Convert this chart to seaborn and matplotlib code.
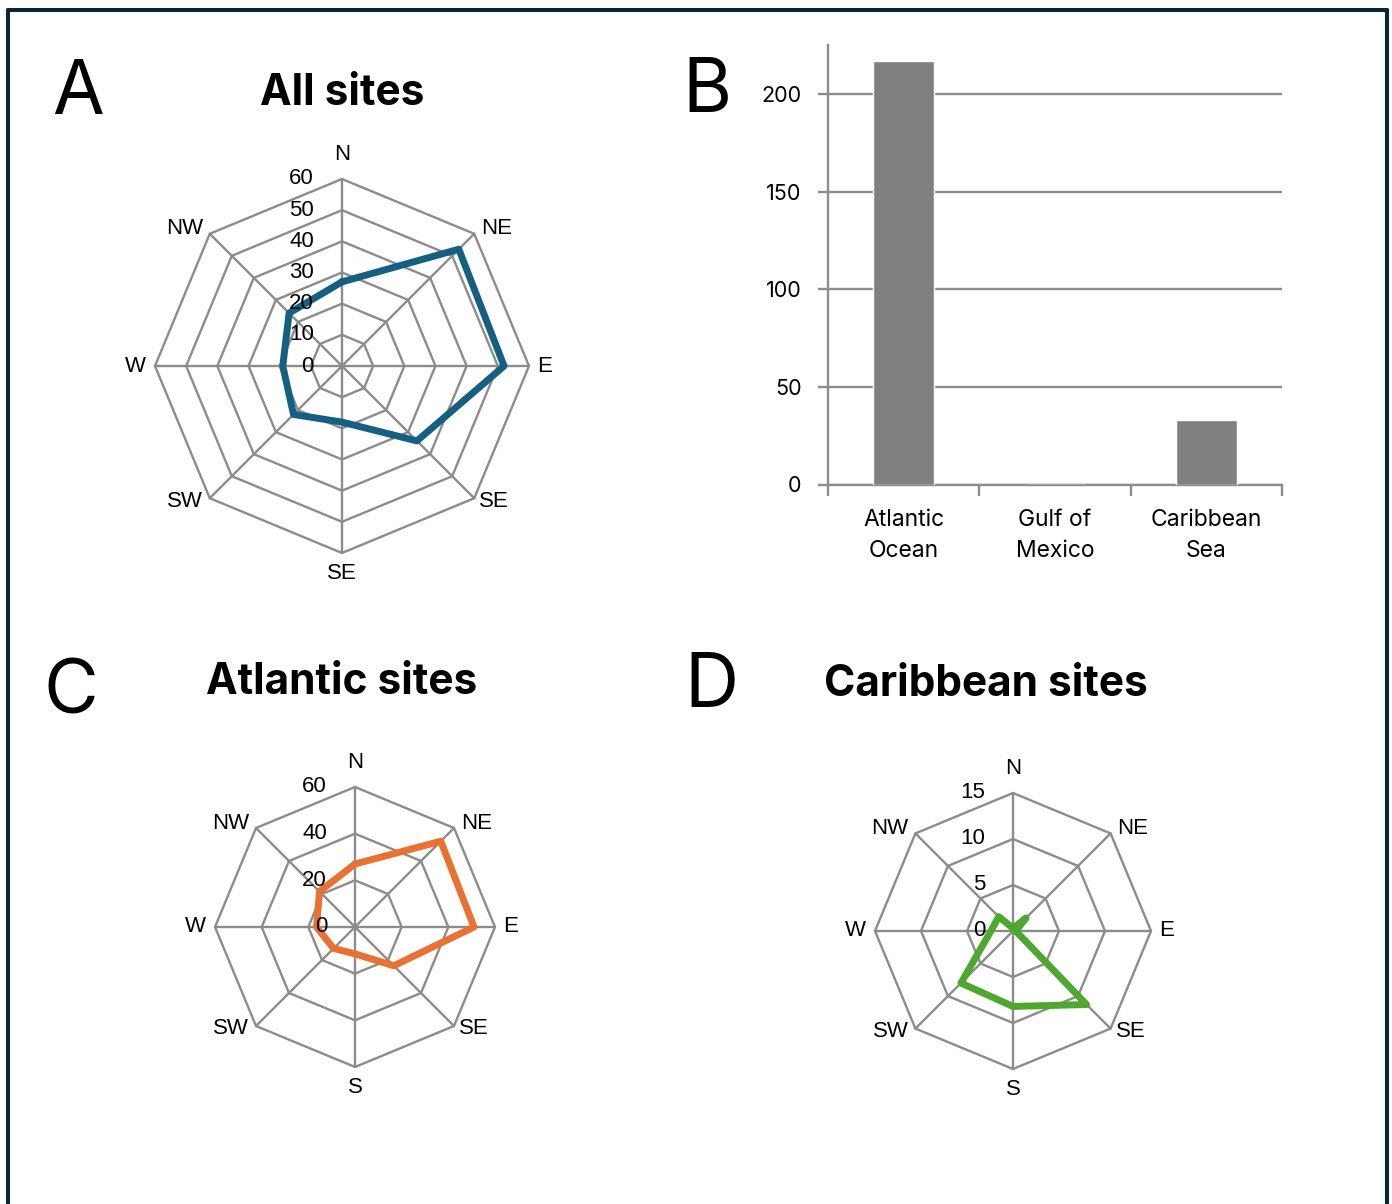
import numpy as np
import pandas as pd
import matplotlib
matplotlib.use("Agg")
import matplotlib.pyplot as plt
import seaborn as sns
from matplotlib.lines import Line2D

# ---------------- data ----------------
directions_all = ["N", "NE", "E", "SE", "SE", "SW", "W", "NW"]   # labels as printed in panel A
directions = ["N", "NE", "E", "SE", "S", "SW", "W", "NW"]
all_sites = [27, 53, 52, 34, 18, 22, 19, 24]
atlantic_sites = [27, 52, 51, 23.5, 11.5, 13, 16.5, 21.5]
caribbean_sites = [0.3, 2.0, 0.3, 11.3, 8.2, 8.0, 2.4, 2.2]
ticks_all = [0, 10, 20, 30, 40, 50, 60]
ticks_atl = [0, 20, 40, 60]
ticks_car = [0, 5, 10, 15]
regions = ["Atlantic\nOcean", "Gulf of\nMexico", "Caribbean\nSea"]
region_counts = [217, 0, 33]
bar_ticks = [0, 50, 100, 150, 200]

# ---------------- style ----------------
sns.set_theme(style="white")
plt.rcParams["font.family"] = ["Inter", "DejaVu Sans"]
plt.rcParams["text.color"] = "black"
W, H = 1392, 1204
GRID = "#8c8c8c"
RADAR_FONT = ["Liberation Sans", "DejaVu Sans"]
fig = plt.figure(figsize=(W / 100, H / 100), dpi=100)
fig.patch.set_facecolor("white")


def fx(x):
    return x / W


def fy(y):
    return 1 - y / H


# frame
BORDER = "#0c2631"
fig.add_artist(Line2D([fx(8), fx(8)], [fy(10), fy(1210)], color=BORDER, lw=2.9, transform=fig.transFigure))
fig.add_artist(Line2D([fx(8), fx(1387)], [fy(10), fy(10)], color=BORDER, lw=2.9, transform=fig.transFigure))
fig.add_artist(Line2D([fx(1387), fx(1387)], [fy(10), fy(1210)], color=BORDER, lw=2.9, transform=fig.transFigure))

LABEL_POS = [
    ("center", "baseline", 0, 19),
    ("left", "center", 7, 5),
    ("left", "center", 8, 0),
    ("left", "center", 5, -3),
    ("center", "top", 0, -10),
    ("right", "center", -7, -3),
    ("right", "center", -9, 0),
    ("right", "center", -7, 5),
]


def radar(cx, cy, R, values, labels, ticks, color, size=520):
    vmax = ticks[-1]
    L = vmax * (size / 2) / R
    ax = fig.add_axes([fx(cx - size / 2), fy(cy + size / 2), size / W, size / H])
    n = len(values)
    theta = np.arange(n) * 2 * np.pi / n
    s, c = np.sin(theta), np.cos(theta)
    for t in ticks[1:]:
        ax.plot(np.append(t * s, t * s[0]), np.append(t * c, t * c[0]),
                color=GRID, lw=1.7, zorder=1, solid_joinstyle="miter")
    for i in range(n):
        ax.plot([0, vmax * s[i]], [0, vmax * c[i]], color=GRID, lw=1.7, zorder=1)
    v = np.array(values, float)
    df = pd.DataFrame({"x": np.append(v * s, v[0] * s[0]),
                       "y": np.append(v * c, v[0] * c[0])})
    sns.lineplot(data=df, x="x", y="y", sort=False, estimator=None, color=color,
                 lw=5.0, ax=ax, zorder=3, solid_joinstyle="round", solid_capstyle="round")
    for i, lab in enumerate(labels):
        ha, va, dx, dy = LABEL_POS[i]
        ax.annotate(lab, (vmax * s[i], vmax * c[i]), xytext=(dx, dy), textcoords="offset pixels",
                    ha=ha, va=va, fontsize=16, family=RADAR_FONT, color="black",
                    annotation_clip=False, zorder=4)
    for t in ticks:
        ax.annotate(str(t), (0, t), xytext=(-28, 0), textcoords="offset pixels",
                    ha="right", va="center", fontsize=16, family=RADAR_FONT,
                    color="black", annotation_clip=False, zorder=4)
    ax.set_xlim(-L, L)
    ax.set_ylim(-L, L)
    ax.axis("off")
    return ax


radar(342, 366, 187, all_sites, directions_all, ticks_all, "#156082")
radar(355, 927, 140, atlantic_sites, directions, ticks_atl, "#E97132")
radar(1013, 931, 138, caribbean_sites, directions, ticks_car, "#4EA72E")

# ---------------- bar chart ----------------
left, right, top, bottom = 828, 1282, 45, 484.5
axb = fig.add_axes([fx(left), fy(bottom), (right - left) / W, (bottom - top) / H])
dfb = pd.DataFrame({"region": regions, "count": region_counts})
sns.barplot(data=dfb, x="region", y="count", color="#808080", saturation=1, width=0.4, ax=axb, zorder=3)
axb.set_ylim(0, 225)
axb.set_xlim(-0.5, 2.5)
axb.set_yticks(bar_ticks)
axb.yaxis.grid(True, color=GRID, lw=1.7, zorder=0)
axb.xaxis.grid(False)
axb.set_axisbelow(True)
axb.set_xlabel("")
axb.set_ylabel("")
for sp in ["top", "right"]:
    axb.spines[sp].set_visible(False)
for sp in ["left", "bottom"]:
    axb.spines[sp].set_color(GRID)
    axb.spines[sp].set_linewidth(1.7)
axb.tick_params(axis="y", direction="out", length=7, width=1.7, color=GRID, pad=12,
                labelsize=15.5, labelcolor="black", left=True)
axb.set_xticks([-0.5, 0.5, 1.5, 2.5], minor=True)
axb.tick_params(axis="x", which="minor", direction="out", length=8, width=1.7, color=GRID, bottom=True)
axb.tick_params(axis="x", which="major", length=0, pad=18, labelsize=16.5, labelcolor="black")
for t in axb.get_xticklabels():
    t.set_linespacing(1.5)

# ---------------- titles and panel letters ----------------
fig.text(fx(342), fy(105), "All sites", ha="center", va="baseline", fontsize=30.5, fontweight="bold")
fig.text(fx(342), fy(694), "Atlantic sites", ha="center", va="baseline", fontsize=30.5, fontweight="bold")
fig.text(fx(986), fy(696), "Caribbean sites", ha="center", va="baseline", fontsize=30.5, fontweight="bold")
for letter, x, y in [("A", 78, 114), ("B", 707, 112), ("C", 71, 713), ("D", 711, 707)]:
    fig.text(fx(x), fy(y), letter, ha="center", va="baseline", fontsize=54, fontweight="normal")

fig.savefig("out.png", dpi=100, facecolor="white")
